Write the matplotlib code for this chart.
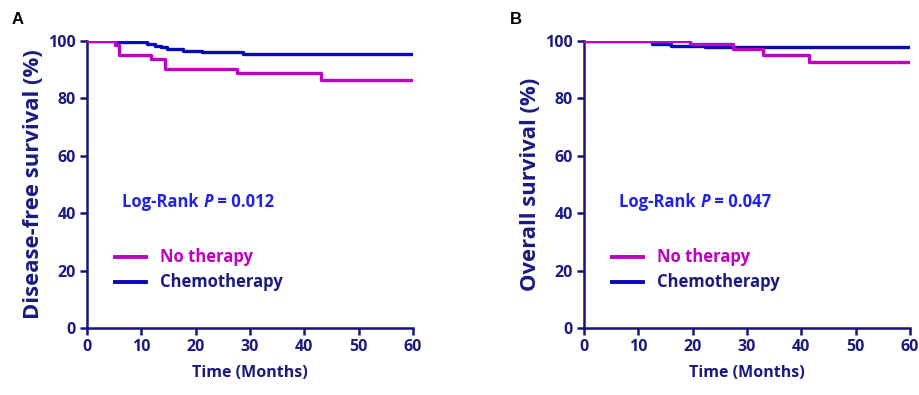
import matplotlib
matplotlib.use("Agg")
import matplotlib.pyplot as plt
from matplotlib.transforms import offset_copy

plt.rcParams['font.family'] = ['Open Sans', 'DejaVu Sans']

# Panel A: disease-free survival (step times in months, survival %)
dfs_none_t = [0, 5.2, 5.9, 11.8, 14.4, 27.6, 43.0, 60]
dfs_none_s = [100, 98.6, 95.1, 93.6, 90.1, 88.7, 86.4, 86.4]
dfs_chemo_t = [0, 5.7, 11.0, 12.5, 13.7, 14.8, 17.7, 21.1, 28.8, 60]
dfs_chemo_s = [100, 99.5, 99.0, 98.3, 98.0, 97.3, 96.6, 96.0, 95.6, 95.6]

# Panel B: overall survival
os_none_t = [0, 19.5, 27.5, 32.9, 41.5, 60]
os_none_s = [100, 98.8, 97.1, 95.1, 92.8, 92.8]
os_chemo_t = [0, 12.6, 16.0, 22.3, 60]
os_chemo_s = [100, 98.8, 98.4, 98.0, 98.0]

x_ticks = [0, 10, 20, 30, 40, 50, 60]
y_ticks = [0, 20, 40, 60, 80, 100]
labels = ["No therapy", "Chemotherapy"]
pvals = ["0.012", "0.047"]
ylabels = ["Disease-free survival (%)", "Overall survival (%)"]
panel_letters = ["A", "B"]

C_NONE = "#C000C0"
C_CHEMO = "#0A0AB4"
C_AXIS = "#14147A"
C_TEXT = "#1A1A80"
C_P = "#2222E6"

fig = plt.figure(figsize=(9.19, 3.95), dpi=100)
bottom = 1 - 328 / 395
height = (328 - 41) / 395
lefts = [87 / 919, 584 / 919]
width = 326 / 919

data = [((dfs_none_t, dfs_none_s), (dfs_chemo_t, dfs_chemo_s)),
        ((os_none_t, os_none_s), (os_chemo_t, os_chemo_s))]

renderer = fig.canvas.get_renderer()

for i in range(2):
    ax = fig.add_axes([lefts[i], bottom, width, height])
    (nt, ns), (ct, cs) = data[i]
    ax.step(ct, cs, where='post', color=C_CHEMO, lw=2.4, zorder=3)
    ax.step(nt, ns, where='post', color=C_NONE, lw=2.4, zorder=4)
    ax.set_xlim(0, 60)
    ax.set_ylim(0, 100)
    ax.set_xticks(x_ticks)
    ax.set_yticks(y_ticks)
    for s in ['top', 'right']:
        ax.spines[s].set_visible(False)
    for s in ['left', 'bottom']:
        ax.spines[s].set_color(C_AXIS)
        ax.spines[s].set_linewidth(1.8)
    ax.tick_params(direction='out', length=5, width=1.8, color=C_AXIS,
                   labelcolor=C_TEXT, labelsize=11.5, pad=3)
    for lab in ax.get_xticklabels() + ax.get_yticklabels():
        lab.set_fontweight('bold')
    ax.set_xlabel("Time (Months)", fontsize=11.5, fontweight='bold', color=C_TEXT, labelpad=7)
    ax.set_ylabel(ylabels[i], fontsize=15.8, fontweight='bold', color=C_TEXT, labelpad=3)

    # Log-rank text composed of pieces (upright / italic / upright)
    t1 = ax.text(6.5, 44, "Log-Rank ", fontsize=12, fontweight='bold',
                 color=C_P, va='center', ha='left')
    w1 = t1.get_window_extent(renderer).width * 72 / fig.dpi
    t2 = ax.text(6.5, 44, "P", fontsize=12, fontweight='bold', style='italic',
                 color=C_P, va='center', ha='left',
                 transform=offset_copy(ax.transData, fig=fig, x=w1, y=0, units='points'))
    w2 = t2.get_window_extent(renderer).width * 72 / fig.dpi
    ax.text(6.5, 44, " = " + pvals[i], fontsize=12, fontweight='bold',
            color=C_P, va='center', ha='left',
            transform=offset_copy(ax.transData, fig=fig, x=w1 + w2, y=0, units='points'))

    # legend
    ax.plot([5.2, 10.8], [24.7, 24.7], color=C_NONE, lw=2.8)
    ax.plot([5.2, 10.8], [16.0, 16.0], color=C_CHEMO, lw=2.8)
    ax.text(13.5, 24.7, labels[0], fontsize=12, fontweight='bold', color=C_NONE, va='center')
    ax.text(13.5, 16.0, labels[1], fontsize=12, fontweight='bold', color=C_TEXT, va='center')
    fig.text((12 if i == 0 else 510) / 919, 1 - 20 / 395, panel_letters[i],
             fontsize=12, fontweight='bold', color='black', family='Liberation Sans',
             va='center', ha='left')

fig.savefig("out.png", dpi=100)
